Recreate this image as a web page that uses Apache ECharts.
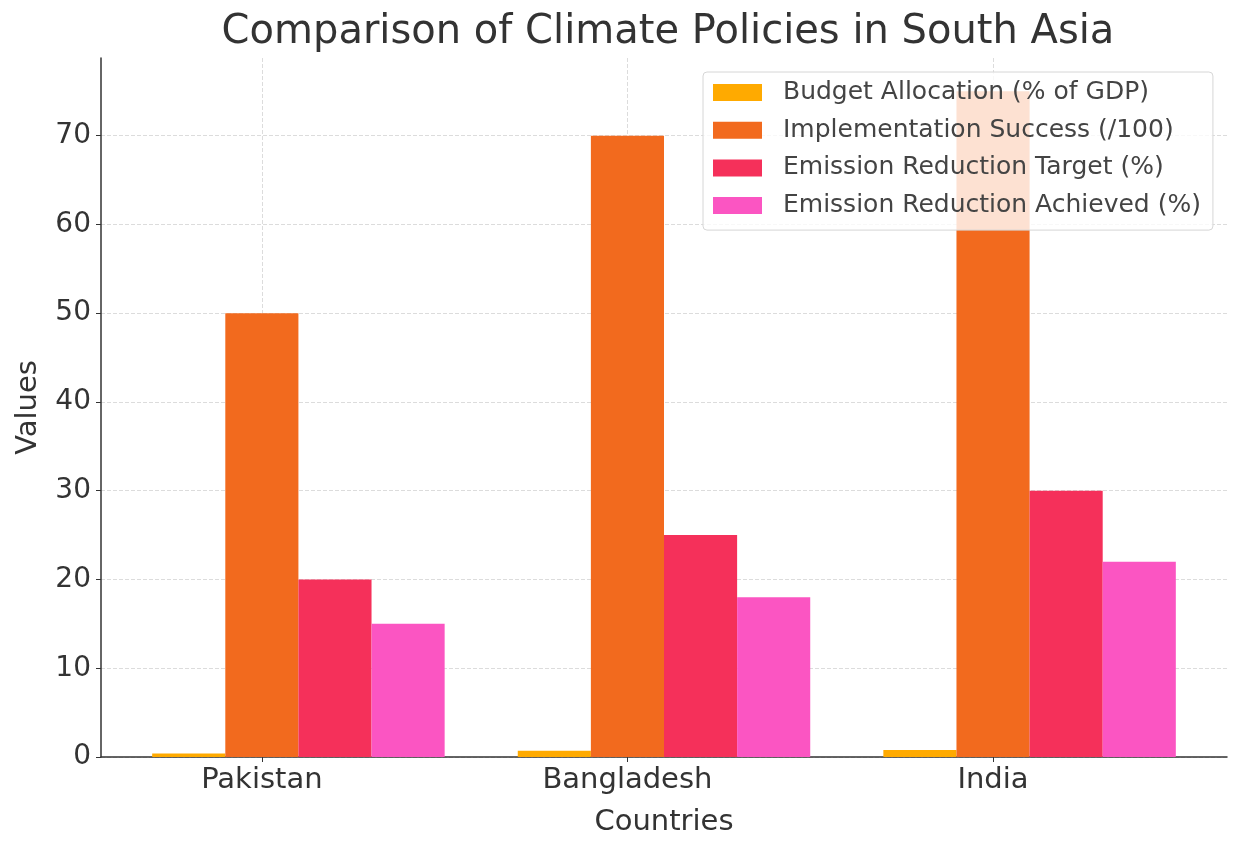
<!DOCTYPE html>
<html>
<head>
<meta charset="utf-8">
<script src="https://cdn.jsdelivr.net/npm/echarts@6/dist/echarts.min.js"></script>
<style>
  html, body { margin: 0; padding: 0; background: #fff; }
  #chart { width: 1233px; height: 850px; }
</style>
</head>
<body>
<div id="chart"></div>
<script>
  // data
  var countries = ['Pakistan', 'Bangladesh', 'India']
  var seriesNames = [
    'Budget Allocation (% of GDP)',
    'Implementation Success (/100)',
    'Emission Reduction Target (%)',
    'Emission Reduction Achieved (%)'
  ]
  var budget = [0.4, 0.7, 0.8]
  var implementation = [50, 70, 75]
  var target = [20, 25, 30]
  var achieved = [15, 18, 22]
  var yTicks = [0, 10, 20, 30, 40, 50, 60, 70]

  var colors = ['#FFAA00', '#F26A1E', '#F5305A', '#FB55C2']
  var barW = 0.2   // bar width in axis units, bars placed at i + (k-1)*w (matplotlib style)
  var values = [budget, implementation, target, achieved]

  var chart = echarts.init(document.getElementById('chart'))

  var series = values.map(function (arr, k) {
    return {
      name: seriesNames[k],
      type: 'bar',
      barWidth: '100%',
      barGap: '-100%',
      itemStyle: { color: colors[k] },
      data: arr.map(function (v, i) { return [i + (k - 1) * barW, v] })
    }
  })

  var font = 'DejaVu Sans'
  var option = {
    animation: false,
    textStyle: { fontFamily: font },
    title: {
      text: 'Comparison of Climate Policies in South Asia',
      left: 663,
      textAlign: 'center',
      top: 8,
      textStyle: { fontFamily: font, fontSize: 40, fontWeight: 'normal', color: '#333' }
    },
    legend: {
      orient: 'vertical',
      left: 703,
      top: 72,
      padding: [8, 12, 12, 10],
      itemWidth: 49,
      itemHeight: 17,
      itemGap: 12.7,
      icon: 'rect',
      backgroundColor: 'rgba(255,255,255,0.8)',
      borderColor: '#d6d6d6',
      borderWidth: 1,
      borderRadius: 4,
      textStyle: { fontFamily: font, fontSize: 25, color: '#444', padding: [0, 0, 0, 16] },
      data: seriesNames
    },
    grid: { left: 101, right: 6, top: 58, bottom: 93, containLabel: false, outerBoundsMode: 'none' },
    xAxis: {
      type: 'value',
      min: -0.44,
      max: 2.64,
      name: 'Countries',
      nameLocation: 'middle',
      nameGap: 51,
      nameTextStyle: { fontFamily: font, fontSize: 29, color: '#333' },
      axisLine: { onZero: false, lineStyle: { color: '#333', width: 1.5 } },
      axisTick: { customValues: [0, 1, 2], length: 5, lineStyle: { color: '#333' } },
      axisLabel: {
        customValues: [0, 1, 2],
        fontFamily: font, fontSize: 29, color: '#333', margin: 9,
        formatter: function (v) { return countries[Math.round(v)] }
      },
      splitLine: { show: true, lineStyle: { color: '#dcdcdc', type: 'dashed' } }
    },
    yAxis: {
      type: 'value',
      min: 0,
      max: 78.75,
      name: 'Values',
      nameLocation: 'middle',
      nameGap: 58,
      nameTextStyle: { fontFamily: font, fontSize: 29, color: '#333' },
      axisLine: { show: true, onZero: false, lineStyle: { color: '#333', width: 1.5 } },
      axisTick: { show: true, customValues: yTicks, length: 5, lineStyle: { color: '#333' } },
      axisLabel: { customValues: yTicks, fontFamily: font, fontSize: 28, color: '#333', margin: 10 },
      splitLine: { show: true, lineStyle: { color: '#dcdcdc', type: 'dashed' } }
    },
    series: series
  }

  chart.setOption(option)
</script>
</body>
</html>
